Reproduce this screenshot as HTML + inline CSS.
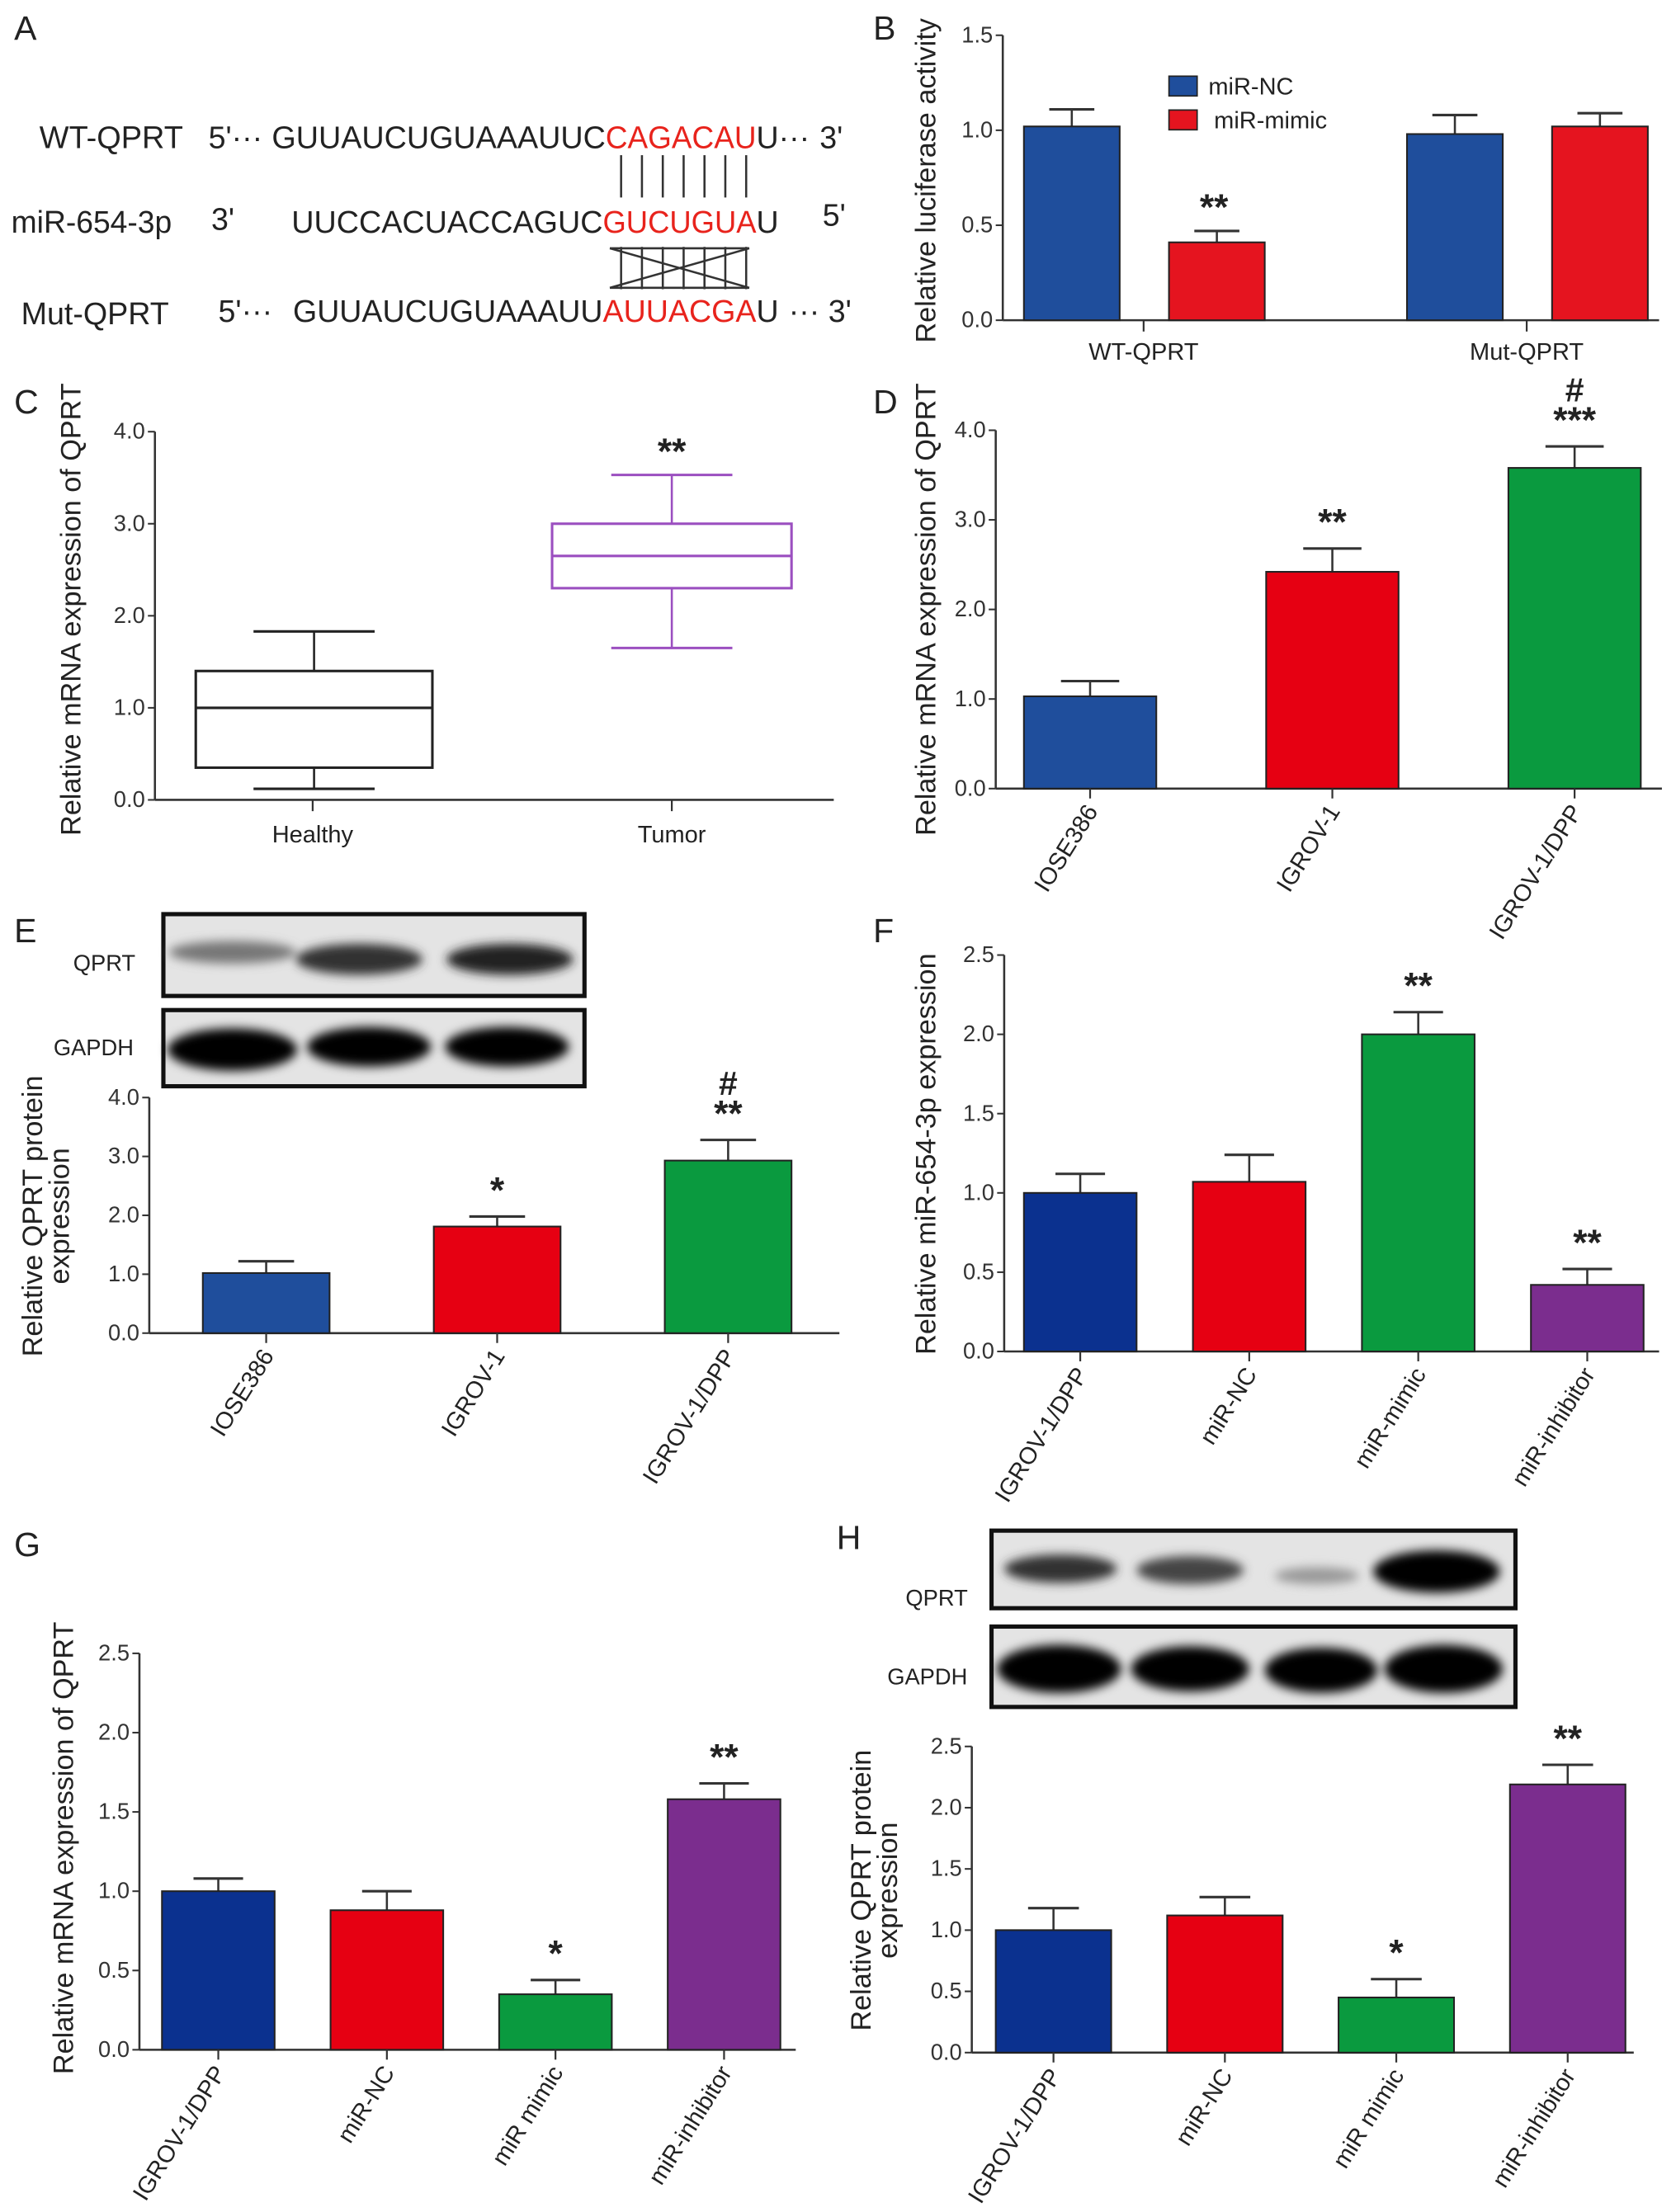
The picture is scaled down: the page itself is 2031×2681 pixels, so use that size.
<!DOCTYPE html>
<html><head><meta charset="utf-8"><style>
html,body{margin:0;padding:0;background:#fff}
svg{display:block}
text{font-family:"Liberation Sans",Arial,sans-serif;fill:#222}
.tk{font-size:16px;fill:#333}
.lab{font-size:20px;fill:#222}
</style></head><body>
<svg id="fig" width="2031" height="2681" viewBox="0 0 1190 1568" preserveAspectRatio="none" xmlns="http://www.w3.org/2000/svg">
<defs>
<filter id="blur" x="-20%" y="-50%" width="140%" height="200%"><feGaussianBlur stdDeviation="3.5"/></filter>
</defs>
<!-- Panel A -->
<g>
<text x="10" y="28" font-size="24">A</text>
<text x="28" y="105" font-size="22" textLength="102" lengthAdjust="spacingAndGlyphs">WT-QPRT</text>
<text x="148" y="105" font-size="22">5'···</text>
<text x="193" y="105" font-size="22" textLength="237" lengthAdjust="spacingAndGlyphs">GUUAUCUGUAAAUUC</text>
<text x="430" y="105" font-size="22" textLength="107" lengthAdjust="spacingAndGlyphs" style="fill:#e8231c">CAGACAU</text>
<text x="537" y="105" font-size="22">U···</text>
<text x="582" y="105" font-size="22">3'</text>
<text x="8" y="165" font-size="22" textLength="114" lengthAdjust="spacingAndGlyphs">miR-654-3p</text>
<text x="150" y="163" font-size="22">3'</text>
<text x="207" y="165" font-size="22" textLength="221" lengthAdjust="spacingAndGlyphs">UUCCACUACCAGUC</text>
<text x="428" y="165" font-size="22" textLength="109" lengthAdjust="spacingAndGlyphs" style="fill:#e8231c">GUCUGUA</text>
<text x="537" y="165" font-size="22">U</text>
<text x="584" y="160" font-size="22">5'</text>
<text x="15" y="230" font-size="22" textLength="105" lengthAdjust="spacingAndGlyphs">Mut-QPRT</text>
<text x="155" y="228" font-size="22">5'···</text>
<text x="208" y="228" font-size="22" textLength="220" lengthAdjust="spacingAndGlyphs">GUUAUCUGUAAAUU</text>
<text x="428" y="228" font-size="22" textLength="109" lengthAdjust="spacingAndGlyphs" style="fill:#e8231c">AUUACGA</text>
<text x="537" y="228" font-size="22">U</text>
<text x="560" y="228" font-size="22">··· 3'</text>
<g id="pairlines" stroke="#333" stroke-width="1.5"></g>
</g>
<g id="charts"></g>
<!-- Blots -->
<g>
<text x="52" y="688" font-size="16">QPRT</text>
<text x="38" y="748" font-size="16">GAPDH</text>
<rect x="116" y="648" width="299" height="58" fill="#e4e4e4" stroke="#111" stroke-width="3"/>
<rect x="116" y="716" width="299" height="54" fill="#e4e4e4" stroke="#111" stroke-width="3"/>
<g filter="url(#blur)">
<ellipse cx="165" cy="675" rx="45" ry="8" fill="#777"/>
<ellipse cx="255" cy="680" rx="45" ry="11" fill="#333"/>
<ellipse cx="362" cy="680" rx="45" ry="11" fill="#222"/>
<ellipse cx="165" cy="744" rx="46" ry="15" fill="#000"/>
<ellipse cx="262" cy="742" rx="44" ry="14" fill="#000"/>
<ellipse cx="360" cy="742" rx="44" ry="14" fill="#000"/>
</g>
</g>
<g>
<text x="643" y="1138" font-size="16">QPRT</text>
<text x="630" y="1194" font-size="16">GAPDH</text>
<rect x="704" y="1085" width="372" height="55" fill="#e4e4e4" stroke="#111" stroke-width="3"/>
<rect x="704" y="1153" width="372" height="57" fill="#e4e4e4" stroke="#111" stroke-width="3"/>
<g filter="url(#blur)">
<ellipse cx="753" cy="1112" rx="40" ry="10" fill="#333"/>
<ellipse cx="845" cy="1113" rx="38" ry="10" fill="#444"/>
<ellipse cx="935" cy="1117" rx="30" ry="6" fill="#999"/>
<ellipse cx="1020" cy="1114" rx="45" ry="15" fill="#000"/>
<ellipse cx="752" cy="1183" rx="44" ry="17" fill="#000"/>
<ellipse cx="845" cy="1183" rx="42" ry="16" fill="#000"/>
<ellipse cx="938" cy="1184" rx="40" ry="16" fill="#000"/>
<ellipse cx="1025" cy="1183" rx="42" ry="17" fill="#000"/>
</g>
</g>
</svg>
<script>
// ---- data arrays ----
const bCategories = ["WT-QPRT","Mut-QPRT"];
const bSeriesNC = [1.02, 0.98];
const bSeriesNCErr = [1.11, 1.08];
const bSeriesMimic = [0.41, 1.02];
const bSeriesMimicErr = [0.47, 1.09];
const bTicks = ["0.0","0.5","1.0","1.5"];
const cCategories = ["Healthy","Tumor"];
const cMin = [0.12, 1.65];
const cQ1 = [0.35, 2.30];
const cMedian = [1.0, 2.65];
const cQ3 = [1.40, 3.00];
const cMax = [1.83, 3.53];
const cTicks = ["0.0","1.0","2.0","3.0","4.0"];
const dCategories = ["IOSE386","IGROV-1","IGROV-1/DPP"];
const dValues = [1.03, 2.42, 3.58];
const dErr = [1.20, 2.68, 3.82];
const dTicks = ["0.0","1.0","2.0","3.0","4.0"];
const eCategories = ["IOSE386","IGROV-1","IGROV-1/DPP"];
const eValues = [1.02, 1.81, 2.93];
const eErr = [1.22, 1.98, 3.28];
const eTicks = ["0.0","1.0","2.0","3.0","4.0"];
const fCategories = ["IGROV-1/DPP","miR-NC","miR-mimic","miR-inhibitor"];
const fValues = [1.00, 1.07, 2.00, 0.42];
const fErr = [1.12, 1.24, 2.14, 0.52];
const fTicks = ["0.0","0.5","1.0","1.5","2.0","2.5"];
const gCategories = ["IGROV-1/DPP","miR-NC","miR mimic","miR-inhibitor"];
const gValues = [1.00, 0.88, 0.35, 1.58];
const gErr = [1.08, 1.00, 0.44, 1.68];
const gTicks = ["0.0","0.5","1.0","1.5","2.0","2.5"];
const hCategories = ["IGROV-1/DPP","miR-NC","miR mimic","miR-inhibitor"];
const hValues = [1.00, 1.12, 0.45, 2.19];
const hErr = [1.18, 1.27, 0.60, 2.35];
const hTicks = ["0.0","0.5","1.0","1.5","2.0","2.5"];

const NS="http://www.w3.org/2000/svg";
const root=document.getElementById('charts');
function mk(tag,attrs,parent,txt){const e=document.createElementNS(NS,tag);for(const k in attrs)e.setAttribute(k,attrs[k]);if(txt!==undefined)e.textContent=txt;(parent||root).appendChild(e);return e;}

// pairing lines panel A
const pl=document.getElementById('pairlines');
for(let i=0;i<7;i++){const x=441+i*14.8;mk('line',{x1:x,y1:110,x2:x,y2:140},pl);mk('line',{x1:x,y1:175,x2:x,y2:205},pl);}
mk('line',{x1:433,y1:176,x2:532,y2:204},pl);mk('line',{x1:433,y1:204,x2:532,y2:176},pl);
mk('line',{x1:433,y1:176,x2:532,y2:176},pl);mk('line',{x1:433,y1:204,x2:532,y2:204},pl);

function axes(g,ax,y0,y1,xEnd,ticks,max,name){
  const ys=v=>y0-(v/max)*(y0-y1);
  mk('line',{x1:ax,y1:y1,x2:ax,y2:y0,stroke:'#333','stroke-width':1.5},g);
  mk('line',{x1:ax,y1:y0,x2:xEnd,y2:y0,stroke:'#333','stroke-width':1.5},g);
  ticks.forEach(t=>{const y=ys(parseFloat(t));
    mk('line',{x1:ax-5,y1:y,x2:ax,y2:y,stroke:'#333','stroke-width':1.2},g);
    const tx=mk('text',{x:ax-7,y:y+5,'text-anchor':'end',class:'tk'},g,t);
    
    
  });
  return ys;
}
function ylabel(g,x,cy,lines,name){
  lines.forEach((s,i)=>{const t=mk('text',{x:0,y:0,transform:`translate(${x+i*19},${cy}) rotate(-90)`,'text-anchor':'middle',class:'lab'},g,s);
    
    });
}
function panelLetter(x,y,s){const t=mk('text',{x:x,y:y,'font-size':24},root,s);
  
  }

function barChart(o){
  const g=mk('g',{});
  
  
  const ys=axes(g,o.ax,o.y0,o.y1,o.xEnd,o.ticks,o.max,o.name);
  o.cats.forEach((c,i)=>{
    const x=o.x0+i*o.step, w=o.w, cx=x+w/2;
    const v=o.vals[i], e=o.errs[i];
    mk('line',{x1:cx,y1:ys(v),x2:cx,y2:ys(e),stroke:'#333','stroke-width':1.5},g);
    mk('line',{x1:cx-w*0.22,y1:ys(e),x2:cx+w*0.22,y2:ys(e),stroke:'#333','stroke-width':1.8},g);
    const r=mk('rect',{x:x,y:ys(v),width:w,height:o.y0-ys(v),fill:o.colors[i],stroke:'#222','stroke-width':1.2},g);
    
    
    mk('line',{x1:cx,y1:o.y0,x2:cx,y2:o.y0+7,stroke:'#333','stroke-width':1.3},g);
    const t=mk('text',{x:0,y:0,transform:`translate(${cx+6},${o.y0+16}) rotate(-58)`,'text-anchor':'end','font-size':17,fill:'#333'},g,c);
    
    
    if(o.sig&&o.sig[i]){o.sig[i].forEach((s,k)=>{
      const st=mk('text',{x:cx,y:ys(e)-10-k*22,'text-anchor':'middle','font-size':s==='#'?24:26,'font-weight':'bold'},g,s);
      
      });}
  });
  ylabel(g,o.lx,o.lcy,o.label,o.name+'-y-title');
}

// Panel B
panelLetter(620,28,'B');
(function(){
  const g=mk('g',{});
  
  
  const ys=axes(g,712,227,25,1178,bTicks,1.5,'chart-b');
  const groupX=[727,999];
  bCategories.forEach((c,i)=>{
    [[bSeriesNC,bSeriesNCErr,'#1f4e9c',0],[bSeriesMimic,bSeriesMimicErr,'#e5141f',103]].forEach(([vs,es,col,off])=>{
      const x=groupX[i]+off,w=68,cx=x+w/2;
      mk('line',{x1:cx,y1:ys(vs[i]),x2:cx,y2:ys(es[i]),stroke:'#333','stroke-width':1.5},g);
      mk('line',{x1:cx-16,y1:ys(es[i]),x2:cx+16,y2:ys(es[i]),stroke:'#333','stroke-width':1.8},g);
      const r=mk('rect',{x:x,y:ys(vs[i]),width:w,height:227-ys(vs[i]),fill:col,stroke:'#222','stroke-width':1.2},g);
      
      
    });
    const tx=groupX[i]+85;
    mk('line',{x1:tx,y1:227,x2:tx,y2:235,stroke:'#333','stroke-width':1.3},g);
    const t=mk('text',{x:tx,y:255,'text-anchor':'middle','font-size':17,fill:'#333'},g,c);
    
    
  });
  const st=mk('text',{x:862,y:ys(bSeriesMimicErr[0])-8,'text-anchor':'middle','font-size':26,'font-weight':'bold'},g,'**');
  
  
  ylabel(g,664,128,['Relative luciferase activity'],'chart-b-y-title');
  const l1=mk('rect',{x:830,y:54,width:20,height:14,fill:'#1f4e9c',stroke:'#222'},g);
  
  
  mk('text',{x:858,y:67,'font-size':17},g,'miR-NC');
  const l2=mk('rect',{x:830,y:78,width:20,height:14,fill:'#e5141f',stroke:'#222'},g);
  
  
  mk('text',{x:862,y:91,'font-size':17},g,'miR-mimic');
})();

// Panel C
panelLetter(10,293,'C');
(function(){
  const g=mk('g',{});
  
  
  const ys=axes(g,110,567,306,592,cTicks,4,'chart-c');
  const bx=[139,392],bw=[168,170],col=['#222','#9b4fc0'];
  cCategories.forEach((c,i)=>{
    const x=bx[i],w=bw[i],cx=x+w/2,k=col[i];
    mk('line',{x1:cx,y1:ys(cMax[i]),x2:cx,y2:ys(cQ3[i]),stroke:k,'stroke-width':1.5},g);
    mk('line',{x1:cx,y1:ys(cQ1[i]),x2:cx,y2:ys(cMin[i]),stroke:k,'stroke-width':1.5},g);
    mk('line',{x1:cx-43,y1:ys(cMax[i]),x2:cx+43,y2:ys(cMax[i]),stroke:k,'stroke-width':1.8},g);
    mk('line',{x1:cx-43,y1:ys(cMin[i]),x2:cx+43,y2:ys(cMin[i]),stroke:k,'stroke-width':1.8},g);
    const r=mk('rect',{x:x,y:ys(cQ3[i]),width:w,height:ys(cQ1[i])-ys(cQ3[i]),fill:'none',stroke:k,'stroke-width':1.8},g);
    
    
    mk('line',{x1:x,y1:ys(cMedian[i]),x2:x+w,y2:ys(cMedian[i]),stroke:k,'stroke-width':1.8},g);
    const tx=i===0?222:477;
    mk('line',{x1:tx,y1:567,x2:tx,y2:575,stroke:'#333','stroke-width':1.3},g);
    const t=mk('text',{x:tx,y:597,'text-anchor':'middle','font-size':17,fill:'#333'},g,c);
    
    
  });
  const st=mk('text',{x:477,y:ys(cMax[1])-8,'text-anchor':'middle','font-size':26,'font-weight':'bold'},g,'**');
  
  
  ylabel(g,57,432,['Relative mRNA expression of QPRT'],'chart-c-y-title');
})();

// Panel D
panelLetter(620,293,'D');
barChart({name:'chart-d',ax:707,y0:559,y1:305,xEnd:1180,max:4,ticks:dTicks,cats:dCategories,vals:dValues,errs:dErr,
  x0:727,step:172,w:94,colors:['#1f4e9c','#e60012','#0a9a3f'],sig:[null,['**'],['***','#']],lx:664,lcy:432,label:['Relative mRNA expression of QPRT']});

// Panel E
panelLetter(10,668,'E');
barChart({name:'chart-e',ax:106,y0:945,y1:778,xEnd:596,max:4,ticks:eTicks,cats:eCategories,vals:eValues,errs:eErr,
  x0:144,step:164,w:90,colors:['#1f4e9c','#e60012','#0a9a3f'],sig:[null,['*'],['**','#']],lx:30,lcy:862,label:['Relative QPRT protein','expression']});

// Panel F
panelLetter(620,668,'F');
barChart({name:'chart-f',ax:713,y0:958,y1:677,xEnd:1178,max:2.5,ticks:fTicks,cats:fCategories,vals:fValues,errs:fErr,
  x0:727,step:120,w:80,colors:['#0b318f','#e60012','#0a9a3f','#7b2d8e'],sig:[null,null,['**'],['**']],lx:664,lcy:818,label:['Relative miR-654-3p expression']});

// Panel G
panelLetter(10,1103,'G');
barChart({name:'chart-g',ax:99,y0:1453,y1:1172,xEnd:565,max:2.5,ticks:gTicks,cats:gCategories,vals:gValues,errs:gErr,
  x0:115,step:119.7,w:80,colors:['#0b318f','#e60012','#0a9a3f','#7b2d8e'],sig:[null,null,['*'],['**']],lx:52,lcy:1310,label:['Relative mRNA expression of QPRT']});

// Panel H
panelLetter(594,1098,'H');
barChart({name:'chart-h',ax:690,y0:1455,y1:1238,xEnd:1160,max:2.5,ticks:hTicks,cats:hCategories,vals:hValues,errs:hErr,
  x0:707,step:121.7,w:82,colors:['#0b318f','#e60012','#0a9a3f','#7b2d8e'],sig:[null,null,['*'],['**']],lx:618,lcy:1340,label:['Relative QPRT protein','expression']});
</script>
</body></html>
